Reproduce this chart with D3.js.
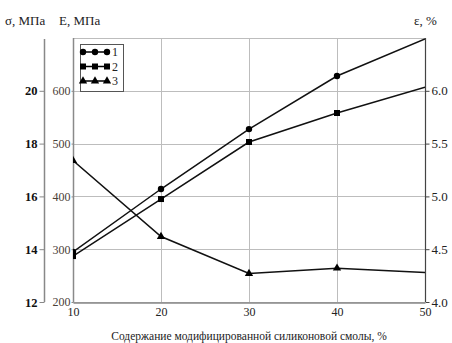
<!DOCTYPE html>
<html>
<head>
<meta charset="utf-8">
<script src="https://cdn.jsdelivr.net/npm/d3@7"></script>
<style>
  body { margin: 0; background: #fff; }
  svg text { font-family: "Liberation Serif", "Times New Roman", serif; }
</style>
</head>
<body>
<div id="chart"></div>
<script>
// data
var content = [10, 20, 30, 40, 50];
var sigma = [13.9, 16.28, 18.55, 20.56, 21.96];     // series 1, MPa (left axis)
var modulus = [287, 395, 503, 558, 607];             // series 2, MPa (E axis)
var strain = [5.34, 4.62, 4.27, 4.32, 4.28];         // series 3, % (right axis)
var sigmaTicks = [12, 14, 16, 18, 20];
var modulusTicks = [200, 300, 400, 500, 600];
var strainTicks = [4.0, 4.5, 5.0, 5.5, 6.0];
var legendNames = ["1", "2", "3"];

var w = 452, h = 343;
var plotLeft = 73, plotRight = 425, plotTop = 38, plotBottom = 302;

var svg = d3.select("#chart").append("svg")
  .attr("width", w)
  .attr("height", h);

var x = d3.scaleLinear().domain([10, 50]).range([plotLeft, plotRight]);
var ySigma = d3.scaleLinear().domain([12, 22]).range([plotBottom, plotTop]);
var yE = d3.scaleLinear().domain([200, 700]).range([plotBottom, plotTop]);
var yEps = d3.scaleLinear().domain([4.0, 6.5]).range([plotBottom, plotTop]);

svg.append("clipPath").attr("id", "plotclip")
  .append("rect")
  .attr("x", plotLeft).attr("y", plotTop)
  .attr("width", plotRight - plotLeft).attr("height", plotBottom - plotTop);

// grid
var grid = svg.append("g").attr("stroke", "#bdbdbd").attr("stroke-width", 1);
grid.selectAll(".gy")
  .data(modulusTicks.concat([700]))
  .enter().append("line")
  .attr("x1", plotLeft).attr("x2", plotRight)
  .attr("y1", function(d){ return Math.round(yE(d)) + 0.5; })
  .attr("y2", function(d){ return Math.round(yE(d)) + 0.5; });
grid.selectAll(".gx")
  .data(content.slice(1, 4))
  .enter().append("line")
  .attr("y1", plotTop).attr("y2", plotBottom)
  .attr("x1", function(d){ return Math.round(x(d)) + 0.5; })
  .attr("x2", function(d){ return Math.round(x(d)) + 0.5; });

// E axis (inner left)
var eAxis = svg.append("g")
  .attr("transform", "translate(" + (plotLeft + 0.5) + ",0)")
  .call(d3.axisLeft(yE).tickValues(modulusTicks).tickSize(2).tickPadding(1).tickSizeOuter(0));
eAxis.attr("font-family", null);
eAxis.select(".domain").attr("stroke", "#8a8a8a").attr("stroke-width", 1.5)
  .attr("d", "M0," + plotTop + "V" + plotBottom);
eAxis.selectAll("line").attr("stroke", "#8a8a8a");
eAxis.selectAll("text")
  .attr("fill", "#4a4038")
  .style("font-size", "12px");

// sigma axis (outer left)
var sAxis = svg.append("g")
  .attr("transform", "translate(44.5,0)")
  .call(d3.axisLeft(ySigma).tickValues(sigmaTicks).tickSize(5).tickPadding(2).tickSizeOuter(0));
sAxis.attr("font-family", null);
sAxis.select(".domain").attr("stroke", "#888").attr("stroke-width", 1.5)
  .attr("d", "M0," + (plotTop + 1) + "V" + plotBottom);
sAxis.selectAll("line").attr("stroke", "#888");
sAxis.selectAll("text")
  .attr("fill", "#111")
  .style("font-size", "12.5px")
  .style("font-weight", "bold");

// strain axis (right)
var rAxis = svg.append("g")
  .attr("transform", "translate(" + (plotRight + 0.5) + ",0)")
  .call(d3.axisRight(yEps).tickValues(strainTicks).tickSize(4).tickPadding(2)
    .tickFormat(d3.format(".1f")).tickSizeOuter(0));
rAxis.attr("font-family", null);
rAxis.select(".domain").attr("stroke", "#444").attr("stroke-width", 1.2)
  .attr("d", "M0," + plotTop + "V" + plotBottom);
rAxis.selectAll("line").attr("stroke", "#444");
rAxis.selectAll("text")
  .attr("fill", "#222")
  .style("font-size", "13px");

// bottom axis
var xAxis = svg.append("g")
  .attr("transform", "translate(0," + (plotBottom + 0.5) + ")")
  .call(d3.axisBottom(x).tickValues(content).tickSize(0).tickPadding(5).tickSizeOuter(0));
xAxis.attr("font-family", null);
xAxis.select(".domain").attr("stroke", "#888").attr("stroke-width", 1.5);
xAxis.selectAll("text")
  .attr("fill", "#222")
  .style("font-size", "12px");

// axis titles
svg.append("text").attr("x", 5).attr("y", 25).attr("font-size", 13).attr("fill", "#222")
  .text("σ, МПа");
svg.append("text").attr("x", 59).attr("y", 25).attr("font-size", 13).attr("fill", "#222")
  .text("E, МПа");
svg.append("text").attr("x", 414).attr("y", 25).attr("font-size", 13).attr("fill", "#222")
  .text("ε, %");
svg.append("text").attr("x", 249).attr("y", 340).attr("text-anchor", "middle")
  .attr("font-size", 11.5).attr("fill", "#222")
  .text("Содержание модифицированной силиконовой смолы, %");

// series
var series = [
  {vals: sigma, y: ySigma, mark: "circle"},
  {vals: modulus, y: yE, mark: "square"},
  {vals: strain, y: yEps, mark: "triangle"}
];

function symbolFor(m) {
  if (m == "circle") return d3.symbol().type(d3.symbolCircle).size(32);
  if (m == "square") return d3.symbol().type(d3.symbolSquare).size(36);
  return d3.symbol().type(d3.symbolTriangle).size(30);
}

var plot = svg.append("g").attr("clip-path", "url(#plotclip)");
series.forEach(function(s){
  var line = d3.line()
    .x(function(d, i){ return x(content[i]); })
    .y(function(d){ return s.y(d); });
  plot.append("path")
    .datum(s.vals)
    .attr("d", line)
    .attr("fill", "none")
    .attr("stroke", "#111")
    .attr("stroke-width", 1.5);
  plot.selectAll(".m-" + s.mark)
    .data(s.vals.slice(0, 4))
    .enter().append("path")
    .attr("d", symbolFor(s.mark))
    .attr("transform", function(d, i){ return "translate(" + x(content[i]) + "," + s.y(d) + ")"; })
    .attr("fill", "#000");
});

// legend
var lg = svg.append("g").attr("transform", "translate(80,44)");
lg.append("rect").attr("x", 0.5).attr("y", 0.5).attr("width", 43).attr("height", 47)
  .attr("fill", "#fff").attr("stroke", "#555").attr("stroke-width", 1);
series.forEach(function(s, k){
  var yy = 8 + k * 14.5;
  lg.append("line").attr("x1", 3).attr("x2", 27).attr("y1", yy).attr("y2", yy)
    .attr("stroke", "#000").attr("stroke-width", 1.5);
  [3, 15, 27].forEach(function(px){
    lg.append("path").attr("d", symbolFor(s.mark))
      .attr("transform", "translate(" + px + "," + yy + ")")
      .attr("fill", "#000");
  });
  lg.append("text").attr("x", 32).attr("y", yy + 4)
    .attr("font-size", 12).attr("fill", "#222")
    .text(legendNames[k]);
});
</script>
</body>
</html>
